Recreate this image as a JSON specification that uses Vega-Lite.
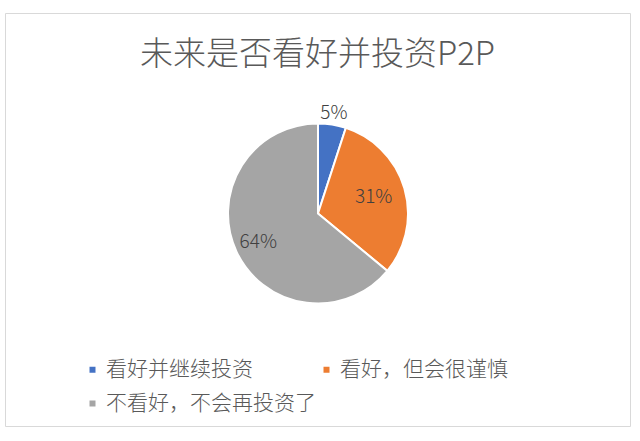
{
  "$schema": "https://vega.github.io/schema/vega-lite/v6.json",
  "width": 625,
  "height": 413,
  "autosize": "none",
  "padding": {"left": 5, "top": 13, "right": 10, "bottom": 15},
  "background": "white",
  "view": {"stroke": "#D9D9D9", "strokeWidth": 1, "fill": "white"},
  "config": {
    "view": {"stroke": "#D9D9D9", "strokeWidth": 1},
    "font": "Noto Sans CJK SC"
  },
  "title": {
    "text": "未来是否看好并投资P2P",
    "fontSize": 33,
    "fontWeight": 300,
    "color": "#595959",
    "font": "Noto Sans CJK SC",
    "orient": "top",
    "anchor": "middle",
    "offset": -59
  },
  "data": {
    "values": [
      {"cat": "看好并继续投资", "value": 0.05, "rank": 1},
      {"cat": "看好，但会很谨慎", "value": 0.31, "rank": 2},
      {"cat": "不看好，不会再投资了", "value": 0.64, "rank": 3}
    ]
  },
  "encoding": {
    "theta": {"field": "value", "type": "quantitative", "stack": true},
    "order": {"field": "rank", "type": "quantitative"}
  },
  "layer": [
    {
      "mark": {"type": "arc", "outerRadius": 90, "stroke": "white", "strokeWidth": 2, "xOffset": 0.5, "yOffset": -6},
      "encoding": {
        "color": {
          "field": "cat",
          "type": "nominal",
          "scale": {
            "domain": ["看好并继续投资", "看好，但会很谨慎", "不看好，不会再投资了"],
            "range": ["#4472C4", "#ED7D31", "#A5A5A5"]
          },
          "legend": {
            "orient": "none",
            "direction": "horizontal",
            "legendX": 77,
            "legendY": 346,
            "columns": 2,
            "title": null,
            "symbolType": "square",
            "symbolSize": 36,
            "symbolStrokeWidth": 0,
            "labelFontSize": 21,
            "labelColor": "#595959",
            "labelFont": "Noto Sans CJK SC",
            "labelFontWeight": 300,
            "labelOffset": 3,
            "rowPadding": 12,
            "columnPadding": 0,
            "labelLimit": 400,
            "padding": 0
          }
        }
      }
    },
    {
      "mark": {"type": "text", "radius": 102, "fontSize": 19, "fontWeight": 300, "color": "#404040", "xOffset": 0.5, "yOffset": -6},
      "encoding": {
        "text": {"field": "value", "type": "quantitative", "format": ".0%"},
        "opacity": {"condition": {"test": "datum.rank == 1", "value": 1}, "value": 0}
      }
    },
    {
      "mark": {"type": "text", "radius": 58, "fontSize": 19, "fontWeight": 300, "color": "#404040", "xOffset": 0.5, "yOffset": -6},
      "encoding": {
        "text": {"field": "value", "type": "quantitative", "format": ".0%"},
        "opacity": {"condition": {"test": "datum.rank == 2", "value": 1}, "value": 0}
      }
    },
    {
      "mark": {"type": "text", "radius": 66, "fontSize": 19, "fontWeight": 300, "color": "#404040", "xOffset": 0.5, "yOffset": -6},
      "encoding": {
        "text": {"field": "value", "type": "quantitative", "format": ".0%"},
        "opacity": {"condition": {"test": "datum.rank == 3", "value": 1}, "value": 0}
      }
    }
  ]
}
